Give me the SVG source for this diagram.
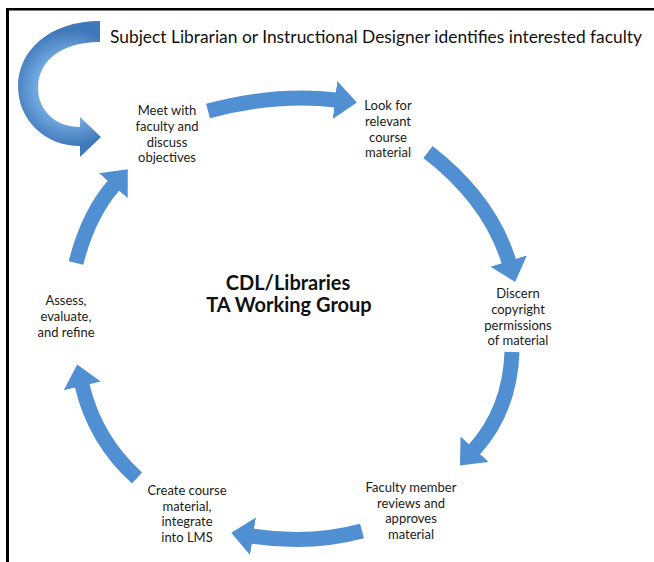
<svg xmlns="http://www.w3.org/2000/svg" width="654" height="562" viewBox="0 0 654 562">
  <style>
    .lbl { font-family: Lato, "Liberation Sans", sans-serif; font-size: 13px; fill: #1a1a1a; text-anchor: middle; }
    .title { font-family: Lato, "Liberation Sans", sans-serif; font-size: 17.5px; fill: #111; }
    .center { font-family: Lato, "Liberation Sans", sans-serif; font-size: 20px; font-weight: bold; fill: #111; text-anchor: middle; }
    .arc { fill: none; stroke: #4f8fd2; stroke-width: 15; marker-end: url(#head); }
    .frame { stroke: #000; fill: none; }
  </style>
  <defs>
    <marker id="head" markerUnits="userSpaceOnUse" markerWidth="22" markerHeight="38" viewBox="0 0 22 38" refX="1" refY="19" orient="auto">
      <path d="M0,0 L22,19 L0,38 Z" fill="#4f8fd2"/>
    </marker>
    <radialGradient id="bigGrad" gradientUnits="userSpaceOnUse" cx="70" cy="88" r="58">
      <stop offset="0.6" stop-color="#6fa7df"/>
      <stop offset="1" stop-color="#4178b9"/>
    </radialGradient>
  </defs>
  <rect width="654" height="562" fill="#fff"/>
  <g id="frame">
    <line class="frame" x1="6" y1="9.2" x2="654" y2="9.2" stroke-width="2.5"/>
    <line class="frame" x1="7.5" y1="8" x2="7.5" y2="562" stroke-width="3"/>
  </g>

  <g id="connectors">
    <path id="entry-arrow" d="M100,21 C48,21 18,52 18,86 C18,120 45,146 80,146 L80,157 L101,137 L80,117 L80,127 C55,127 38,110 38,88 C38,62 60,42 100,42 Z" fill="url(#bigGrad)"/>
    <path class="arc" d="M208,111 Q275,93 336,100"/>
    <path class="arc" d="M428,152 Q490,200 509,262"/>
    <path class="arc" d="M512,352 Q510,410 474,450"/>
    <path class="arc" d="M362,531 Q310,545 252,536"/>
    <path class="arc" d="M137,478 Q95,440 82,385"/>
    <path class="arc" d="M76,263 Q88,215 114,185"/>
  </g>

  <g id="title">
    <text class="title" x="110" y="43" textLength="532" lengthAdjust="spacingAndGlyphs">Subject Librarian or Instructional Designer identifies interested faculty</text>
  </g>

  <g id="center">
    <text class="center" x="288" y="290">CDL/Libraries</text>
    <text class="center" x="289" y="312">TA Working Group</text>
  </g>

  <g id="meet">
    <text class="lbl" x="167" y="115">Meet with</text>
    <text class="lbl" x="167" y="131">faculty and</text>
    <text class="lbl" x="167" y="147">discuss</text>
    <text class="lbl" x="167" y="162">objectives</text>
  </g>
  <g id="look">
    <text class="lbl" x="388" y="110">Look for</text>
    <text class="lbl" x="388" y="126">relevant</text>
    <text class="lbl" x="388" y="142">course</text>
    <text class="lbl" x="388" y="157">material</text>
  </g>
  <g id="discern">
    <text class="lbl" x="518" y="298">Discern</text>
    <text class="lbl" x="518" y="314">copyright</text>
    <text class="lbl" x="518" y="330">permissions</text>
    <text class="lbl" x="518" y="345">of material</text>
  </g>
  <g id="review">
    <text class="lbl" x="411" y="492">Faculty member</text>
    <text class="lbl" x="411" y="508">reviews and</text>
    <text class="lbl" x="411" y="523">approves</text>
    <text class="lbl" x="411" y="539">material</text>
  </g>
  <g id="create">
    <text class="lbl" x="187" y="495">Create course</text>
    <text class="lbl" x="187" y="511">material,</text>
    <text class="lbl" x="187" y="526">integrate</text>
    <text class="lbl" x="187" y="542">into LMS</text>
  </g>
  <g id="assess">
    <text class="lbl" x="66" y="305">Assess,</text>
    <text class="lbl" x="66" y="321">evaluate,</text>
    <text class="lbl" x="66" y="337">and refine</text>
  </g>
</svg>
